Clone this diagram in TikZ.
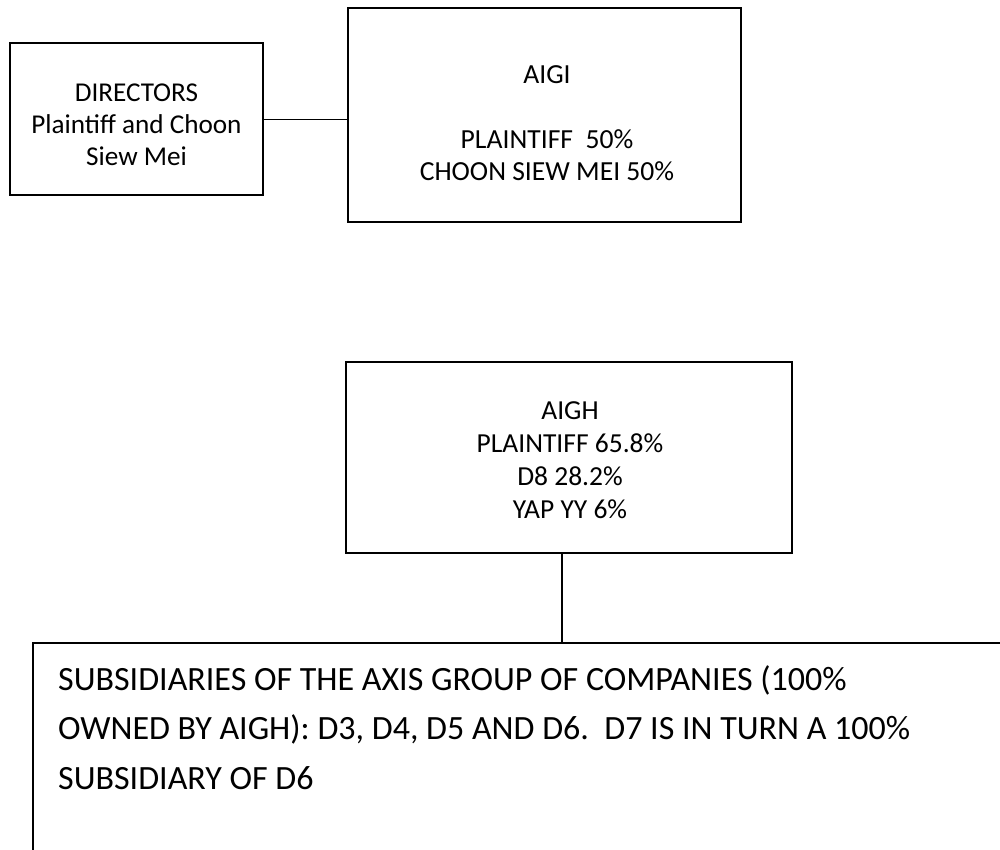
\documentclass[tikz,border=0pt]{standalone}
\usepackage{fontspec}
\setmainfont{Carlito}
\begin{document}
\begin{tikzpicture}[x=1pt,y=-1pt,
  box/.style={draw=black,line width=2.8pt,minimum width=#1,inner sep=0pt},
  boxtext/.style={inner sep=0pt,anchor=base,align=center},
  link/.style={draw=black}
]
\useasboundingbox[fill=white] (0,0) rectangle (1000,850);
\clip (0,0) rectangle (1000,850);

% boxes
\node[box=253pt,minimum height=152pt] (dir) at (136.5,119) {};
\node[box=393pt,minimum height=214pt] (aigi) at (544.5,115) {};
\node[box=446pt,minimum height=191pt] (aigh) at (569,457.5) {};
\node[box=977pt,minimum height=227pt] (sub) at (521.5,756.5) {};

% texts (base anchor = baseline of the last line)
\node[boxtext,font=\fontsize{27.2}{32}\selectfont] (dirtext) at (136.5,166)
  {DIRECTORS\\Plaintiff and Choon\\Siew Mei};
\node[boxtext,font=\fontsize{27.6}{32}\selectfont] (aigititle) at (547,83.5) {AIGI};
\node[boxtext,font=\fontsize{27.6}{32}\selectfont] (aigitext) at (547,180.5)
  {PLAINTIFF\ \ 50\%\\CHOON SIEW MEI 50\%};
\node[boxtext,font=\fontsize{27.5}{33}\selectfont] (aightext) at (570,518.5)
  {AIGH\\PLAINTIFF 65.8\%\\D8 28.2\%\\YAP YY 6\%};
\node[inner sep=0pt,anchor=base west,align=left,font=\fontsize{34}{49.5}\selectfont] (subtext) at (58,789)
  {SUBSIDIARIES OF THE AXIS GROUP OF COMPANIES (100\%\\
   OWNED BY AIGH): D3, D4, D5 AND D6.\ \ D7 IS IN TURN A 100\%\\
   SUBSIDIARY OF D6};

% connectors
\draw[link,line width=1pt] ([yshift=-1pt]dir.east) -- ([yshift=-1pt]dir.east -| aigi.west);
\draw[link,line width=2pt] ([xshift=-7pt]aigh.south) -- ([xshift=-7pt]aigh.south |- sub.north);
\end{tikzpicture}
\end{document}
